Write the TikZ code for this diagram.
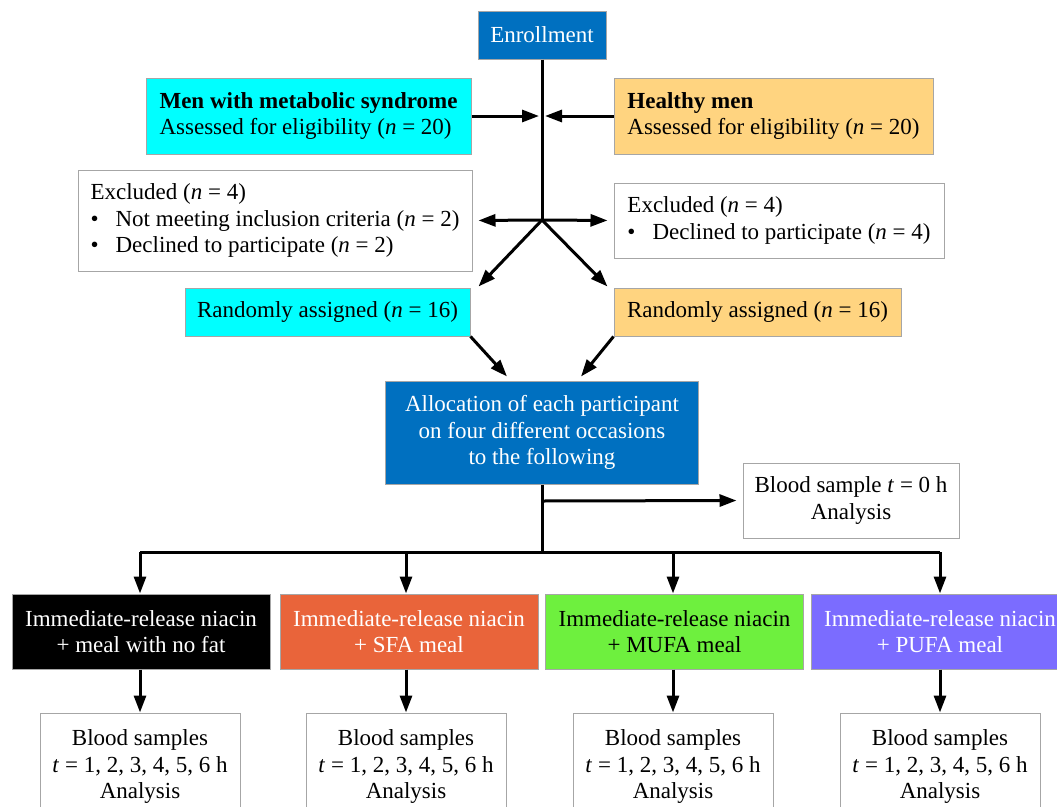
\documentclass[tikz,border=0pt]{standalone}
\usepackage{fontspec}
\setmainfont{Liberation Serif}
\usetikzlibrary{arrows.meta, positioning, calc}

\definecolor{enrollblue}{HTML}{0070C0}
\definecolor{mscyan}{HTML}{00FFFF}
\definecolor{hmorange}{HTML}{FFD480}
\definecolor{sfared}{HTML}{E9643A}
\definecolor{mufagreen}{HTML}{6EF03E}
\definecolor{pufapurple}{HTML}{7B6CFF}

\begin{document}
\begin{tikzpicture}[x=1pt, y=-1pt,
    font=\fontsize{23}{26.5}\selectfont,
    box/.style={draw=gray!70, line width=1pt, inner sep=0pt, align=center},
    leftbox/.style={box, align=left},
    mealbox/.style={box, minimum width=258pt, minimum height=75pt},
    bloodbox/.style={box, fill=white, minimum width=200pt, minimum height=107pt},
    line/.style={line width=3pt},
    arrow/.style={line width=3pt, -{Triangle[length=17pt, width=12pt]}},
]
  \useasboundingbox (0,0) rectangle (1057,806);

  % enrollment and screening
  \node[box, fill=enrollblue, text=white, minimum width=128pt, minimum height=48pt] (enroll) at (542,35) {Enrollment};
  \node[leftbox, fill=mscyan, minimum width=325pt, minimum height=76pt] (metsyn) at (308.5,116) {
    \textbf{Men with metabolic syndrome}\\
    Assessed for eligibility (\textit{n} = 20)};
  \node[leftbox, fill=hmorange, minimum width=319pt, minimum height=76pt] (healthy) at (773.5,116) {
    \textbf{Healthy men}\\
    Assessed for eligibility (\textit{n} = 20)};

  \node[leftbox, minimum width=394pt, minimum height=101pt] (exclL) at (275,220.5) {
    Excluded (\textit{n} = 4)\\
    \textbullet\hspace{17pt}Not meeting inclusion criteria (\textit{n} = 2)\\
    \textbullet\hspace{17pt}Declined to participate (\textit{n} = 2)};
  \node[leftbox, minimum width=330pt, minimum height=75pt] (exclR) at (779,220.5) {
    Excluded (\textit{n} = 4)\\
    \textbullet\hspace{17pt}Declined to participate (\textit{n} = 4)};

  \node[box, fill=mscyan, minimum width=285pt, minimum height=48pt] (randL) at (327.5,312) {Randomly assigned (\textit{n} = 16)};
  \node[box, fill=hmorange, minimum width=287pt, minimum height=48pt] (randR) at (757.5,312) {Randomly assigned (\textit{n} = 16)};

  % allocation
  \node[box, fill=enrollblue, text=white, minimum width=313pt, minimum height=103pt] (alloc) at (542,432.5) {
    Allocation of each participant\\
    on four different occasions\\
    to the following};
  \node[box, minimum width=216pt, minimum height=75pt] (blood0) at (851,500.5) {
    Blood sample \textit{t} = 0 h\\
    Analysis};

  % test meals
  \node[mealbox, fill=black, text=white] (meal1) at (141,631.5) {Immediate-release niacin\\ + meal with no fat};
  \node[mealbox, fill=sfared, text=white] (meal2) at (409,631.5) {Immediate-release niacin\\ + SFA meal};
  \node[mealbox, fill=mufagreen] (meal3) at (674.5,631.5) {Immediate-release niacin\\ + MUFA meal};
  \node[mealbox, fill=pufapurple, text=white] (meal4) at (940,631.5) {Immediate-release niacin\\ + PUFA meal};

  \node[bloodbox] (blood1) at (140,766.5) {Blood samples\\ \textit{t} = 1, 2, 3, 4, 5, 6 h\\ Analysis};
  \node[bloodbox] (blood2) at (406,766.5) {Blood samples\\ \textit{t} = 1, 2, 3, 4, 5, 6 h\\ Analysis};
  \node[bloodbox] (blood3) at (673,766.5) {Blood samples\\ \textit{t} = 1, 2, 3, 4, 5, 6 h\\ Analysis};
  \node[bloodbox] (blood4) at (940,766.5) {Blood samples\\ \textit{t} = 1, 2, 3, 4, 5, 6 h\\ Analysis};

  % junction points
  \coordinate (split) at (542,220);
  \coordinate (jL) at (539,116);
  \coordinate (jR) at (545,116);
  \coordinate (fork) at (542,501);
  \coordinate (bus) at (542,552);

  % connectors
  \draw[line] (enroll.south) -- (split);
  \draw[arrow] (metsyn.east) -- (jL);
  \draw[arrow] (healthy.west) -- (jR);
  \draw[arrow, shorten >=6pt] (split) -- (exclL.east);
  \draw[arrow, shorten >=6pt] (split) -- (exclR.west);
  \draw[arrow] (split) -- ($(randL.north east)+(8,-1)$);
  \draw[arrow] (split) -- ($(randR.north west)+(-6,-1)$);
  \draw[arrow] (randL.south east) -- ($(alloc.north west)+(122,-4)$);
  \draw[arrow] (randR.south west) -- ($(alloc.north east)+(-118,-4)$);
  \draw[line] (alloc.south) -- (bus);
  \draw[arrow, shorten >=6pt] (fork) -- (blood0.west);
  \draw[line] (blood1.north |- bus) -- (blood4.north |- bus);
  \draw[arrow] (blood1.north |- bus) -- (blood1.north |- meal1.north);
  \draw[arrow] (blood2.north |- bus) -- (blood2.north |- meal2.north);
  \draw[arrow] (blood3.north |- bus) -- (blood3.north |- meal3.north);
  \draw[arrow] (blood4.north |- bus) -- (blood4.north |- meal4.north);
  \draw[arrow] (blood1.north |- meal1.south) -- (blood1.north);
  \draw[arrow] (blood2.north |- meal2.south) -- (blood2.north);
  \draw[arrow] (blood3.north |- meal3.south) -- (blood3.north);
  \draw[arrow] (blood4.north |- meal4.south) -- (blood4.north);
\end{tikzpicture}
\end{document}
